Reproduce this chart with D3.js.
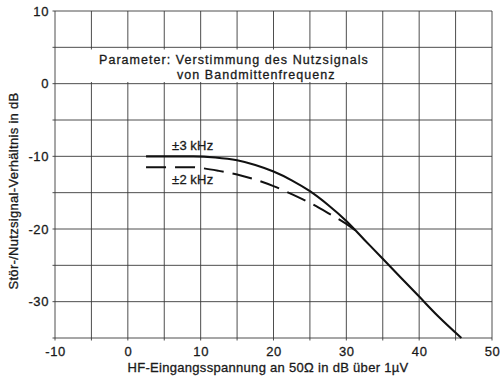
<!DOCTYPE html>
<html>
<head>
<meta charset="utf-8">
<script src="https://cdn.jsdelivr.net/npm/d3@7"></script>
<style>
  html, body { margin: 0; padding: 0; background: #fff; }
  svg { display: block; }
  text { font-family: "Liberation Sans", Arial, sans-serif; fill: #1a1a1a;
         stroke: #1a1a1a; stroke-width: 0.3px; }
</style>
</head>
<body>
<svg id="chart" width="501" height="380"></svg>
<script>
// Störabstand über HF-Eingangsspannung, Parameter: Verstimmung
const xTicks = [-10, 0, 10, 20, 30, 40, 50];
const yTicks = [10, 0, -10, -20, -30];
const xDomain = [-10, 50];
const yDomain = [-35, 10];

// ±3 kHz (durchgezogen)
const detune3kHz = [
  [2.5, -10], [6, -10], [9, -10], [12, -10.15], [15, -10.55], [17.5, -11.2],
  [20, -12.1], [22.5, -13.3], [25, -14.8], [27.5, -16.7], [30, -18.9],
  [32.5, -21.5], [35, -24.1], [37.5, -26.7], [40, -29.3], [42.5, -31.9], [45.8, -35]
];
// ±2 kHz (gestrichelt)
const detune2kHz = [
  [2.5, -11.5], [6, -11.5], [9, -11.5], [10, -11.6], [12.5, -12.0], [15, -12.5],
  [17.5, -13.2], [20, -14.1], [22.5, -15.2], [25, -16.4], [27.5, -17.8],
  [30, -19.3], [31.5, -20.4]
];

const svg = d3.select("#chart");
const x = d3.scaleLinear().domain(xDomain).range([55, 492]);
const y = d3.scaleLinear().domain(yDomain).range([338, 11]);

const gridX = d3.range(-10, 50.01, 5);
const gridY = d3.range(-35, 10.01, 5);

// Gitter
const grid = svg.append("g").attr("stroke", "#3a3a3a").attr("stroke-width", 0.9);
grid.selectAll("line.v").data(gridX).join("line")
  .attr("x1", d => x(d)).attr("x2", d => x(d))
  .attr("y1", y(10)).attr("y2", y(-35) + 2.5);
grid.selectAll("line.h").data(gridY).join("line")
  .attr("x1", x(-10) - 2.5).attr("x2", x(50))
  .attr("y1", d => y(d)).attr("y2", d => y(d));

// Achsen (nur Beschriftung)
const fmt = d => d < 0 ? "-" + Math.abs(d) : d;
const styleTicks = sel => sel.selectAll("text").attr("font-size", 13)
  .attr("fill", "#1a1a1a").attr("stroke", "#1a1a1a").attr("stroke-width", 0.3)
  .attr("font-family", "Liberation Sans, Arial, sans-serif").attr("letter-spacing", 0.6);

const xAxis = d3.axisBottom(x).tickValues(xTicks).tickSize(0).tickPadding(0).tickFormat(fmt);
svg.append("g").attr("transform", `translate(0,${y(-35) + 18})`).call(xAxis)
  .call(g => g.select(".domain").remove())
  .call(styleTicks)
  .selectAll("text").attr("dy", 0);

const yAxis = d3.axisLeft(y).tickValues(yTicks).tickSize(0).tickPadding(6).tickFormat(fmt);
svg.append("g").attr("transform", `translate(${x(-10)},0)`).call(yAxis)
  .call(g => g.select(".domain").remove())
  .call(styleTicks);

// Parameterkasten
svg.append("rect").attr("x", 89).attr("y", 49.5).attr("width", 288).attr("height", 32.5)
  .attr("fill", "#fff");
svg.append("text").attr("x", 99).attr("y", 63.5).attr("font-size", 12.5)
  .attr("letter-spacing", 1.05)
  .text("Parameter: Verstimmung des Nutzsignals");
svg.append("text").attr("x", 177).attr("y", 78.5).attr("font-size", 12.5)
  .attr("letter-spacing", 1.05)
  .text("von Bandmittenfrequenz");

// Kurven
const line = d3.line().x(d => x(d[0])).y(d => y(d[1])).curve(d3.curveMonotoneX);
svg.append("path").datum(detune2kHz).attr("d", line)
  .attr("fill", "none").attr("stroke", "#111").attr("stroke-width", 2)
  .attr("stroke-dasharray", "20,9");
svg.append("path").datum(detune3kHz).attr("d", line)
  .attr("fill", "none").attr("stroke", "#111").attr("stroke-width", 2.1);

// Kurvenbeschriftung
svg.append("text").attr("x", 172).attr("y", 150).attr("font-size", 13)
  .attr("letter-spacing", 0.4).text("\u00B13\u2009kHz");
svg.append("text").attr("x", 172).attr("y", 184).attr("font-size", 13)
  .attr("letter-spacing", 0.4).text("\u00B12\u2009kHz");

// Achsentitel
svg.append("text").attr("x", 268).attr("y", 372).attr("font-size", 13)
  .attr("text-anchor", "middle").attr("letter-spacing", 0.3)
  .text("HF-Eingangsspannung an 50\u03A9 in dB über 1\u00B5V");
svg.append("text").attr("transform", "translate(18,191) rotate(-90)")
  .attr("font-size", 13).attr("text-anchor", "middle").attr("letter-spacing", 0.3)
  .text("Stör-/Nutzsignal-Verhältnis in dB");
</script>
</body>
</html>
